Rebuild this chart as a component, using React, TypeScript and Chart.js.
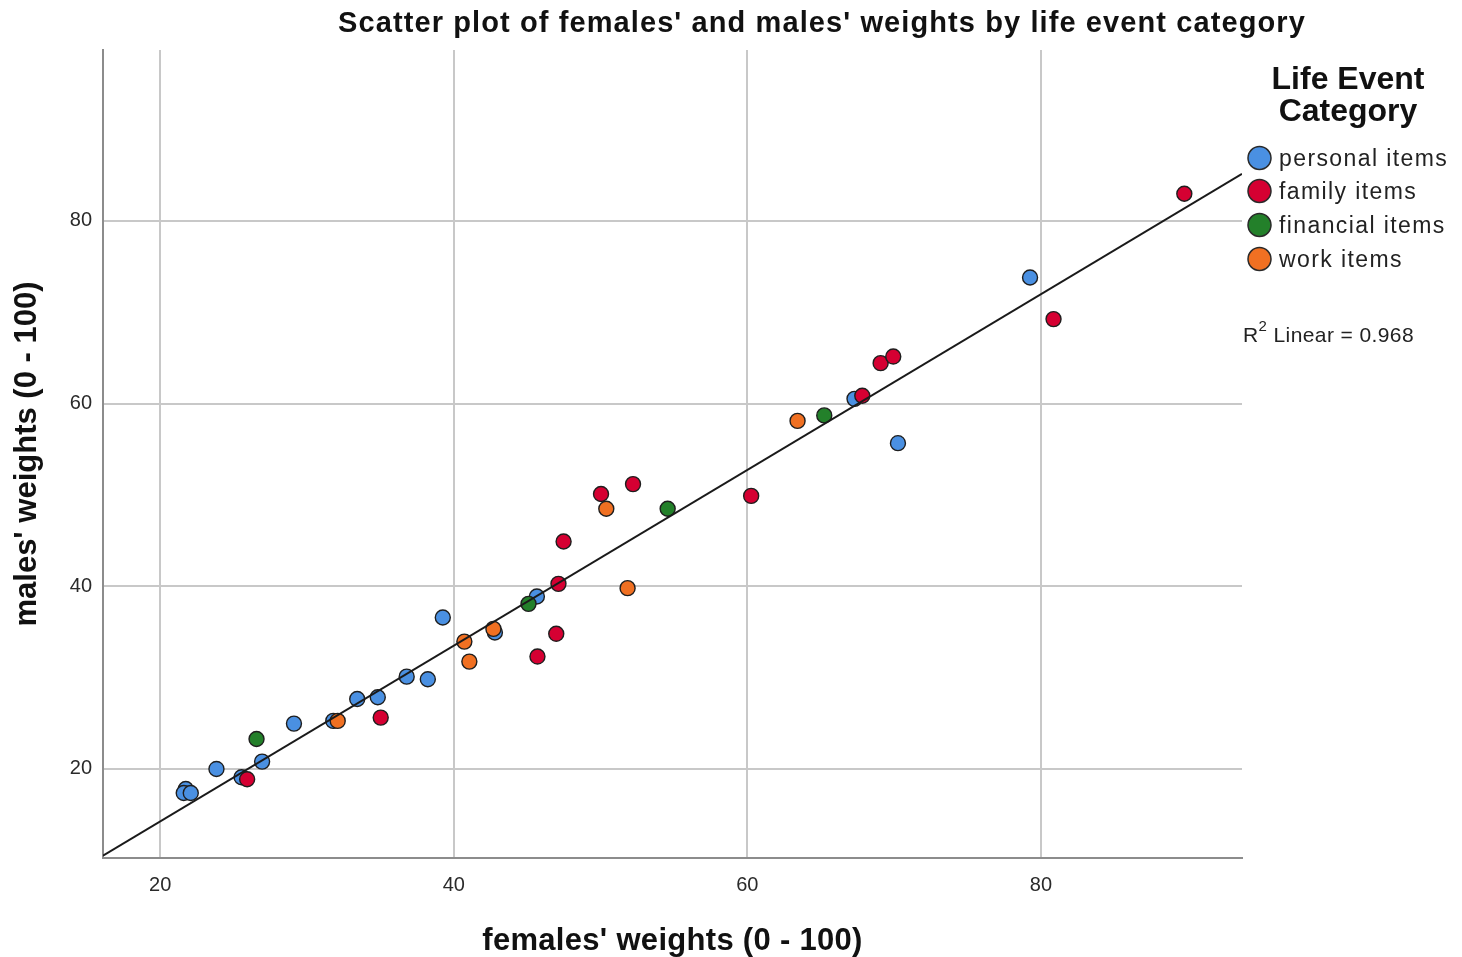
import { useEffect, useRef } from "react";
import { Chart, registerables } from "chart.js";

Chart.register(...registerables);

// ---- data ----
const tickValues = [20, 40, 60, 80];

const categories = ["personal items", "family items", "financial items", "work items"];
const categoryColors = ["#4a90e2", "#d50032", "#23802a", "#f07022"];

const personalX = [21.74, 21.6, 22.08, 23.83, 25.54, 26.94, 29.11, 31.79, 33.42, 34.82, 36.79, 38.23, 39.25, 42.8, 45.66, 67.3, 70.26, 79.26];
const personalY = [17.8, 17.37, 17.37, 20.0, 19.09, 20.8, 24.96, 25.26, 27.66, 27.85, 30.1, 29.82, 36.57, 34.93, 38.87, 60.51, 55.66, 73.8];

const familyX = [25.92, 35.02, 45.7, 46.98, 47.13, 47.48, 50.03, 52.21, 60.26, 67.83, 69.08, 69.94, 80.86, 89.77];
const familyY = [18.87, 25.62, 32.3, 34.79, 40.26, 44.9, 50.09, 51.18, 49.89, 60.85, 64.42, 65.14, 69.24, 82.96];

const financialX = [26.56, 45.09, 54.57, 65.24];
const financialY = [23.28, 38.07, 48.48, 58.7];

const workX = [32.09, 40.72, 41.06, 42.7, 50.39, 51.84, 63.42];
const workY = [25.26, 33.94, 31.75, 35.33, 48.48, 39.79, 58.1];

// fit line (R² linear = 0.968) end points
const fitX = [16.1, 93.7];
const fitY = [10.5, 85.15];
const rSquared = "0.968";

const xMin = 16.1;
const xMax = 93.7;
const yMin = 10.25;
const yMax = 98.7;

const titleText = "Scatter plot of females' and males' weights by life event category";
const xTitle = "females' weights (0 - 100)";
const yTitle = "males' weights (0 - 100)";
const legendTitle = ["Life Event", "Category"];

const toPoints = (xs: number[], ys: number[]) => xs.map((x, i) => ({ x, y: ys[i] }));

const FONT = "'Liberation Sans', Arial, sans-serif";

export default function App() {
  const ref = useRef<HTMLCanvasElement>(null);

  useEffect(() => {
    if (!ref.current) return;

    const overlay = {
      id: "overlay",
      afterDraw(chart: any) {
        const ctx: CanvasRenderingContext2D = chart.ctx;
        const c: any = ctx;
        ctx.save();
        ctx.fillStyle = "#111";
        ctx.textBaseline = "middle";
        ctx.textAlign = "center";

        // main title
        ctx.font = `bold 29px ${FONT}`;
        c.letterSpacing = "1.1px";
        ctx.fillText(titleText, 822, 24);

        // x axis title
        ctx.font = `bold 31px ${FONT}`;
        c.letterSpacing = "0.3px";
        const area = chart.chartArea;
        ctx.fillText(xTitle, (area.left + area.right) / 2, 941);

        // y axis title
        ctx.save();
        ctx.translate(27, (area.top + area.bottom) / 2);
        ctx.rotate(-Math.PI / 2);
        c.letterSpacing = "0px";
        ctx.fillText(yTitle, 0, 0);
        ctx.restore();

        // legend title
        c.letterSpacing = "0px";
        ctx.font = `bold 32px ${FONT}`;
        ctx.fillText(legendTitle[0], 1348, 80);
        ctx.fillText(legendTitle[1], 1348, 112);

        // legend items
        const ys = [158, 191, 225, 259];
        ctx.textAlign = "left";
        ctx.font = `23px ${FONT}`;
        c.letterSpacing = "1.4px";
        categories.forEach((label, i) => {
          ctx.beginPath();
          ctx.arc(1259.5, ys[i], 11.5, 0, Math.PI * 2);
          ctx.fillStyle = categoryColors[i];
          ctx.fill();
          ctx.lineWidth = 1.5;
          ctx.strokeStyle = "#2a2a2a";
          ctx.stroke();
          ctx.fillStyle = "#222";
          ctx.fillText(label, 1279, ys[i] + 2);
        });

        // R² text
        c.letterSpacing = "0.4px";
        ctx.font = `21px ${FONT}`;
        ctx.fillStyle = "#222";
        let x = 1243;
        ctx.fillText("R", x, 336);
        x += ctx.measureText("R").width;
        ctx.font = `15px ${FONT}`;
        ctx.fillText("2", x, 327);
        x += ctx.measureText("2").width;
        ctx.font = `21px ${FONT}`;
        ctx.fillText(" Linear = " + rSquared, x, 336);
        c.letterSpacing = "0px";

        ctx.restore();
      },
    };

    const pointStyle = (i: number) => ({
      backgroundColor: categoryColors[i],
      borderColor: "#1e1e1e",
      borderWidth: 1.4,
      pointRadius: 7.5,
      pointHoverRadius: 7.5,
    });

    const tickFont = { family: FONT, size: 20 };

    const chart = new Chart(ref.current, {
      type: "scatter",
      data: {
        datasets: [
          {
            type: "line",
            label: "fit",
            data: toPoints(fitX, fitY),
            borderColor: "#1a1a1a",
            borderWidth: 2,
            pointRadius: 0,
            showLine: true,
            fill: false,
            order: 0,
          } as any,
          { label: categories[3], data: toPoints(workX, workY), order: 1, ...pointStyle(3) },
          { label: categories[2], data: toPoints(financialX, financialY), order: 2, ...pointStyle(2) },
          { label: categories[1], data: toPoints(familyX, familyY), order: 3, ...pointStyle(1) },
          { label: categories[0], data: toPoints(personalX, personalY), order: 4, ...pointStyle(0) },
        ],
      },
      options: {
        responsive: false,
        animation: false,
        devicePixelRatio: 1,
        layout: { padding: { top: 50, right: 220, left: 0, bottom: 0 } },
        plugins: {
          legend: { display: false },
          tooltip: { enabled: false },
          title: { display: false },
        },
        scales: {
          x: {
            type: "linear",
            min: xMin,
            max: xMax,
            afterBuildTicks: (s: any) => {
              s.ticks = tickValues.map((v) => ({ value: v }));
            },
            afterFit: (s: any) => {
              s.height = 99;
            },
            grid: { color: "#c8c8c8", lineWidth: 2, drawTicks: false },
            border: { color: "#8c8c8c", width: 2 },
            ticks: { padding: 15, font: tickFont, color: "#2a2a2a" },
          },
          y: {
            type: "linear",
            min: yMin,
            max: yMax,
            afterBuildTicks: (s: any) => {
              s.ticks = tickValues.map((v) => ({ value: v }));
            },
            afterFit: (s: any) => {
              s.width = 103;
            },
            grid: { color: "#c8c8c8", lineWidth: 2, drawTicks: false },
            border: { color: "#8c8c8c", width: 2 },
            ticks: { padding: 11, font: tickFont, color: "#2a2a2a" },
          },
        },
      } as any,
      plugins: [overlay],
    });

    return () => chart.destroy();
  }, []);

  return (
    <div style={{ position: "absolute", left: 0, top: 0, width: 1462, height: 957, background: "#fff" }}>
      <canvas ref={ref} width={1462} height={957} style={{ display: "block" }} />
    </div>
  );
}
